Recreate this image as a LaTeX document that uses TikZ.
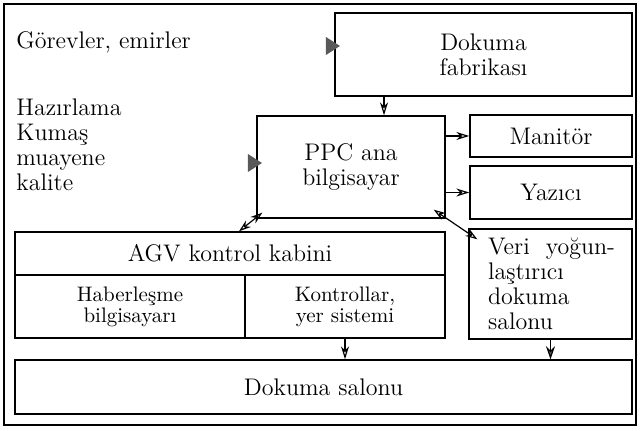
\documentclass[tikz,border=0pt]{standalone}
\usetikzlibrary{arrows.meta,shapes.geometric}
\tikzset{
  box/.style={draw, line width=0.7pt, inner sep=2pt, align=center, font=\fontsize{12}{12.5}\selectfont},
  cell/.style={box, font=\fontsize{10.5}{10.5}\selectfont},
  label/.style={anchor=west, inner sep=0pt, align=left, font=\fontsize{12}{12.5}\selectfont},
  arr/.style={line width=0.6pt, -{Stealth[open,length=6.5pt,width=4pt]}},
  biarr/.style={line width=0.6pt, {Stealth[open,length=6pt,width=4pt]}-{Stealth[open,length=6pt,width=4pt]}},
  arrfill/.style={line width=0.6pt, -{Stealth[length=6.5pt,width=4.5pt,fill=gray!70!black]}},
  pointer/.style={isosceles triangle, isosceles triangle stretches, fill=gray!70!black, inner sep=0pt, minimum height=7pt, minimum width=9pt, anchor=apex}
}
\begin{document}
\begin{tikzpicture}[x=0.5pt,y=-0.5pt]
\useasboundingbox (0,0) rectangle (640,431);
\draw[line width=1.3pt] (4,4) rectangle (636,425);
% boxes
\node[box, minimum width=148.5pt, minimum height=41.5pt](fab) at (483.5,54.5){Dokuma\\fabrikası};
\node[box, minimum width=94pt, minimum height=51pt](ppc) at (351,167){PPC ana\\bilgisayar};
\node[box, minimum width=81pt, minimum height=21pt](mon) at (551,136){Manitör};
\node[box, minimum width=81pt, minimum height=26.5pt](yaz) at (551,192.5){Yazıcı};
\node[box, minimum width=215pt, minimum height=21.5pt](agv) at (230,253.5){AGV kontrol kabini};
\node[cell, minimum width=115pt, minimum height=31.5pt](hab) at (130,306.5){Haberleşme\\bilgisayarı};
\node[cell, minimum width=100pt, minimum height=31.5pt](kon) at (345,306.5){Kontrollar,\\yer sistemi};
\node[box, minimum width=81.5pt, minimum height=55pt, text width=62.5pt, inner xsep=9.5pt, align=left](veri) at (550.5,284){\mbox{Veri~~yoğun-}\\laştırıcı\\dokuma\\salonu};
\node[box, minimum width=308.5pt, minimum height=27pt](salon) at (323.5,387){Dokuma salonu};
% side texts
\node[label](gorev) at (16,42){Görevler, emirler};
\node[label](hazir) at (16,145){Hazırlama\\Kumaş\\muayene\\kalite};
\node[pointer](p1) at (341,46){};
\node[pointer](p2) at (263,163){};
% connectors
\draw[arr] (fab.south -| 384,0) -- (ppc.north -| 384,0);
\draw[arr] (ppc.east |- mon.west) -- (mon.west);
\draw[arr] (ppc.east |- yaz.west) -- (yaz.west);
\draw[biarr] ([shift={(3pt,3pt)}]ppc.south west) -- (agv.north -| 239,0);
\draw[biarr] ([shift={(-6pt,4.5pt)}]ppc.south east) -- ([shift={(4.5pt,-5.5pt)}]veri.north west);
\draw[arr] (kon.south) -- (kon.south |- salon.north);
\draw[arrfill] (veri.south) -- (veri.south |- salon.north);
\end{tikzpicture}
\end{document}
